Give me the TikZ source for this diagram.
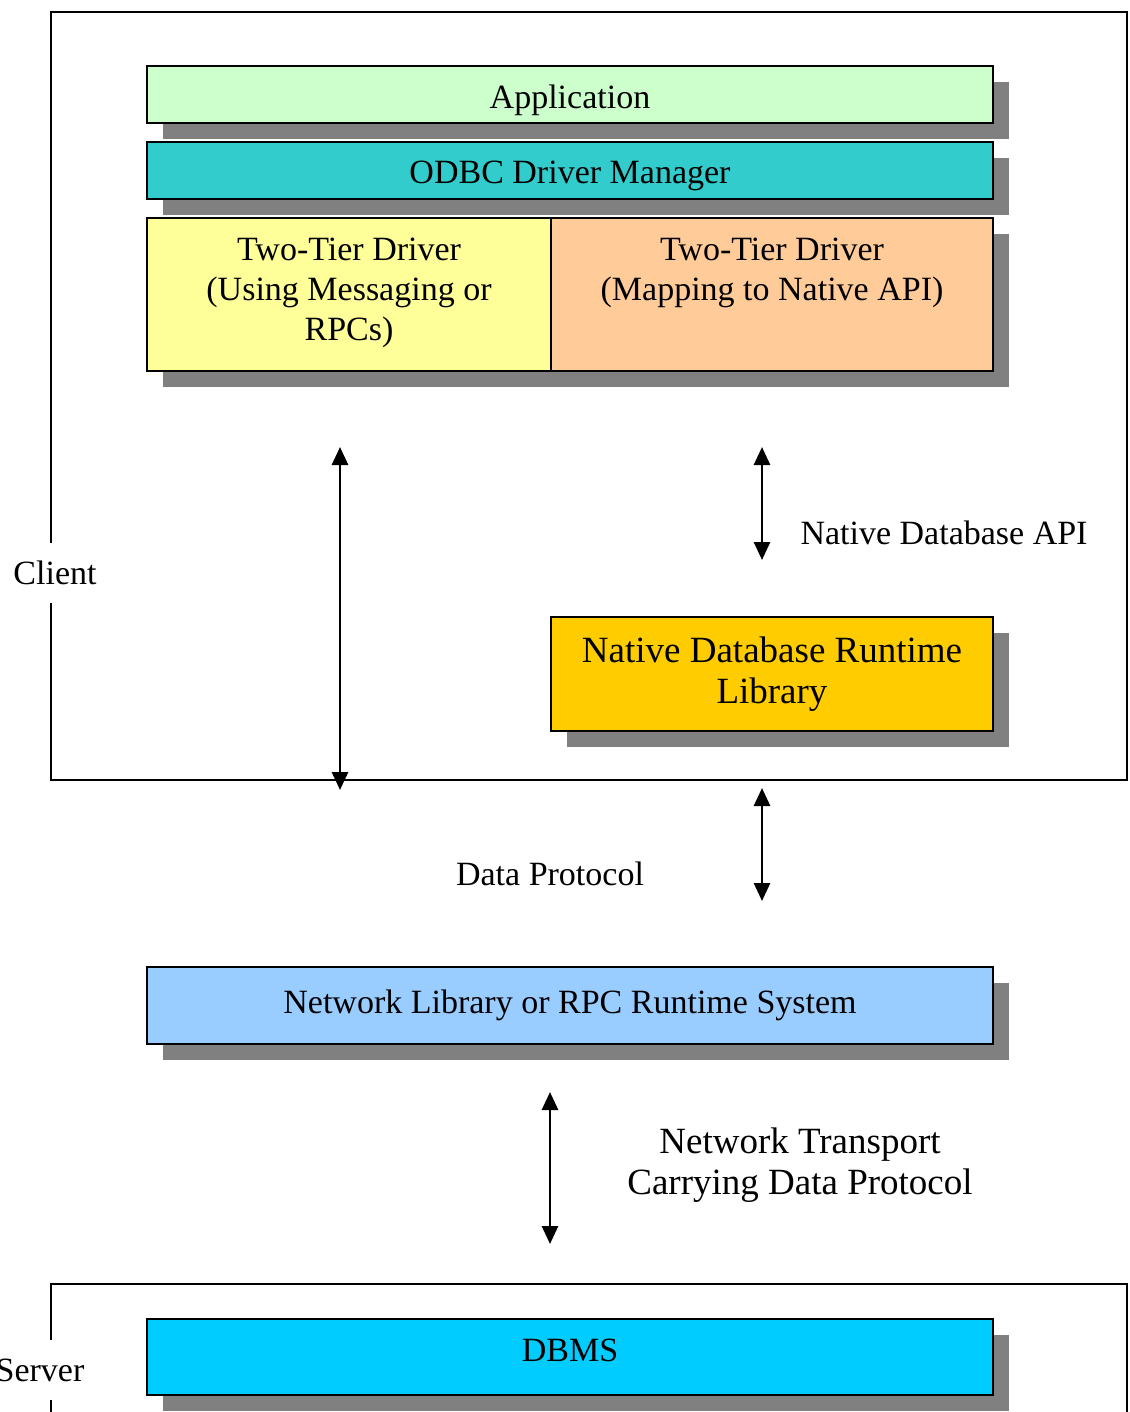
\documentclass[tikz,border=0pt]{standalone}
\usepackage{fontspec}
\setmainfont{Liberation Serif}
\usetikzlibrary{arrows.meta,shadows}

\definecolor{appgreen}{HTML}{CCFFCC}
\definecolor{mgrteal}{HTML}{33CCCC}
\definecolor{msgyellow}{HTML}{FFFF99}
\definecolor{mappeach}{HTML}{FFCC99}
\definecolor{rtgold}{HTML}{FFCC00}
\definecolor{netblue}{HTML}{99CCFF}
\definecolor{dbcyan}{HTML}{00CCFF}
\definecolor{shadowgray}{HTML}{808080}

\tikzset{
  layer/.style={draw, line width=1.2pt, inner sep=0pt, align=center,
    drop shadow={shadow xshift=8pt, shadow yshift=-8pt, fill=shadowgray, opacity=1}},
  frame/.style={line width=1pt},
  gaplabel/.style={fill=white, inner sep=2pt, minimum height=30pt},
  link/.style={line width=1.4pt, {Triangle[length=9pt,width=8pt]}-{Triangle[length=9pt,width=8pt]}}
}

\begin{document}
\begin{tikzpicture}[x=0.5pt, y=-0.5pt, font=\fontsize{17}{20}\selectfont]
      \useasboundingbox (0,0) rectangle (1129,1412);

      % client and server frames
      \draw[frame] (51,12) rectangle (1127,780);
      \node[gaplabel] (client) at (55,573) {Client};
      \draw[frame] (51,1430) -- (51,1284) -- (1127,1284) -- (1127,1430);
      \node[gaplabel] (server) at (40,1370) {Server};

      % stack of layers
      \node[layer, fill=appgreen, minimum width=423pt, minimum height=28.5pt] (app) at (570,94.5) {};
      \node (apptext) at (570,100.5) {Application};
      \node[layer, fill=mgrteal, minimum width=423pt, minimum height=28.5pt] (mgr) at (570,170.5) {};
      \node (mgrtext) at (570,176) {ODBC Driver Manager};
      \node[layer, fill=msgyellow, minimum width=202pt, minimum height=76.5pt] (msgdrv) at (349,294.5) {};
      \node[layer, fill=mappeach, minimum width=221pt, minimum height=76.5pt] (mapdrv) at (772,294.5) {};
      \node[align=center] (msgtext) at (349,293) {Two-Tier Driver\\(Using Messaging or\\RPCs)};
      \node[align=center] (maptext) at (772,272.5) {Two-Tier Driver\\(Mapping to Native API)};
      \node[layer, fill=rtgold, minimum width=221pt, minimum height=57pt,
            font=\fontsize{18.5}{20.5}\selectfont] (runtime) at (772,674) {Native Database Runtime\\Library};
      \node[layer, fill=netblue, minimum width=423pt, minimum height=38.5pt] (netlib) at (570,1005.5) {Network Library or RPC Runtime System};
      \node[layer, fill=dbcyan, minimum width=423pt, minimum height=38pt] (dbms) at (570,1357) {};
      \node (dbmstext) at (570,1350) {DBMS};

      % arrow ends
      \coordinate (msgtop) at (340,447);
      \coordinate (msgbot) at (340,790);
      \coordinate (apitop) at (762,447);
      \coordinate (apibot) at (762,560);
      \coordinate (prottop) at (762,788);
      \coordinate (protbot) at (762,901);
      \coordinate (nettop) at (550,1092);
      \coordinate (netbot) at (550,1244);

      \draw[link] (msgtop) -- (msgbot);
      \draw[link] (apitop) -- (apibot);
      \draw[link] (prottop) -- (protbot);
      \draw[link] (nettop) -- (netbot);

      \node (apilabel) at (944,533) {Native Database API};
      \node (protlabel) at (550,874) {Data Protocol};
      \node[align=center, font=\fontsize{18.5}{20.5}\selectfont] (netlabel) at (800,1165) {Network Transport\\Carrying Data Protocol};
\end{tikzpicture}
\end{document}
